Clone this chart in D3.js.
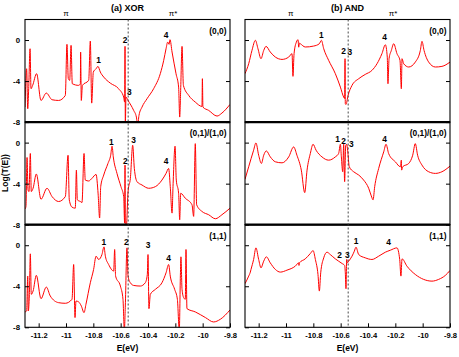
<!DOCTYPE html>
<html lang="en">
  <head>
    <meta charset="utf-8">
    <title>XOR / AND transmission</title>
    <script src="https://cdn.jsdelivr.net/npm/d3@7"></script>
    <style>
      body { margin: 0; background: #fff; }
      text { font-family: "Liberation Sans", Arial, Helvetica, sans-serif; }
    </style>
  </head>
  <body>
    <script>
      // energy ticks, log ticks, row tags
      const eTicks = [-11.2, -11, -10.8, -10.6, -10.4, -10.2, -10, -9.8];
      const logTicks = [0, -4, -8];
      const rowTags = ["(0,0)", "(0,1)/(1,0)", "(1,1)"];
      const fermiE = -10.545;

      // [E, log T]
      const xor00 = [[-11.300,-6.54],[-11.288,-2.80],[-11.280,-6.70],[-11.273,-4.75],[-11.263,-0.85],[-11.256,-4.75],[-11.244,-4.42],[-11.215,-3.28],[-11.183,-5.89],[-11.144,-5.17],[-11.102,-5.82],[-11.054,-5.89],[-11.005,-5.40],[-10.993,-0.42],[-10.983,-3.77],[-10.973,-3.93],[-10.963,-0.52],[-10.954,-4.26],[-10.907,-4.42],[-10.895,-4.26],[-10.893,-1.17],[-10.888,-5.89],[-10.880,-4.42],[-10.834,-3.93],[-10.822,-0.10],[-10.812,-6.15],[-10.800,-3.12],[-10.780,-2.80],[-10.766,-2.57],[-10.749,-3.12],[-10.724,-3.61],[-10.676,-4.20],[-10.615,-4.75],[-10.578,-5.56],[-10.571,-6.05],[-10.568,-0.62],[-10.566,-8.30],[-10.561,-5.56],[-10.546,-5.89],[-10.505,-6.86],[-10.485,-7.51],[-10.476,-8.30],[-10.466,-7.35],[-10.444,-6.54],[-10.407,-5.72],[-10.359,-4.75],[-10.310,-3.28],[-10.285,-1.98],[-10.268,-0.85],[-10.256,-0.20],[-10.246,-0.42],[-10.239,0.03],[-10.224,-1.17],[-10.195,-3.28],[-10.176,-4.59],[-10.168,-7.51],[-10.161,-4.91],[-10.151,-0.62],[-10.141,-4.42],[-10.102,-5.40],[-10.054,-6.05],[-10.005,-6.47],[-10.002,-3.77],[-9.998,-6.54],[-9.956,-6.86],[-9.895,-7.41],[-9.859,-7.12],[-9.800,-6.28]];
      const xor01 = [[-11.300,-6.48],[-11.293,-6.23],[-11.285,-1.45],[-11.278,-4.61],[-11.271,-4.77],[-11.261,-1.06],[-11.254,-4.77],[-11.241,-4.45],[-11.217,-3.06],[-11.183,-5.52],[-11.139,-4.45],[-11.102,-5.26],[-11.054,-5.74],[-11.005,-5.26],[-10.985,-1.23],[-10.976,-5.58],[-10.956,-6.29],[-10.932,-6.39],[-10.924,-2.68],[-10.917,-5.58],[-10.895,-5.74],[-10.883,-5.84],[-10.868,-1.06],[-10.859,-3.65],[-10.834,-3.74],[-10.810,-3.48],[-10.780,-3.10],[-10.765,-5.00],[-10.754,-7.35],[-10.746,-4.29],[-10.724,-3.16],[-10.693,-2.03],[-10.673,-1.23],[-10.663,-0.35],[-10.654,-1.39],[-10.627,-3.00],[-10.598,-4.29],[-10.578,-5.26],[-10.571,-7.84],[-10.568,-2.19],[-10.566,-8.30],[-10.559,-8.30],[-10.546,-4.77],[-10.529,-3.48],[-10.512,-0.26],[-10.500,-2.52],[-10.480,-3.81],[-10.444,-4.13],[-10.395,-4.45],[-10.346,-4.29],[-10.298,-3.65],[-10.268,-3.00],[-10.249,-2.52],[-10.237,-4.29],[-10.224,-6.87],[-10.217,-4.29],[-10.202,-0.35],[-10.193,-3.65],[-10.176,-4.94],[-10.168,-7.52],[-10.161,-4.94],[-10.127,-5.42],[-10.078,-6.06],[-10.066,-7.19],[-10.054,-0.10],[-10.044,-6.06],[-10.005,-6.71],[-9.956,-7.03],[-9.907,-7.42],[-9.859,-7.03],[-9.800,-6.39]];
      const xor11 = [[-11.300,-6.50],[-11.288,-6.41],[-11.280,-3.01],[-11.276,-6.41],[-11.268,-4.79],[-11.261,-0.84],[-11.254,-4.79],[-11.241,-4.47],[-11.217,-2.94],[-11.183,-5.21],[-11.144,-4.08],[-11.115,-4.95],[-11.054,-5.60],[-11.005,-5.66],[-10.956,-5.27],[-10.944,-1.88],[-10.934,-7.05],[-10.927,-5.44],[-10.907,-5.53],[-10.888,-5.92],[-10.868,-6.57],[-10.854,-5.76],[-10.822,-3.66],[-10.798,-2.36],[-10.780,-1.07],[-10.761,-1.39],[-10.737,-0.91],[-10.722,-0.16],[-10.712,-1.07],[-10.688,-1.88],[-10.651,-2.52],[-10.644,-0.42],[-10.637,-3.01],[-10.602,-3.98],[-10.583,-5.27],[-10.573,-8.30],[-10.566,-5.92],[-10.554,-0.26],[-10.546,-3.01],[-10.529,-3.66],[-10.505,-3.92],[-10.456,-3.98],[-10.420,-3.66],[-10.405,-2.85],[-10.400,-0.91],[-10.393,-6.18],[-10.383,-4.79],[-10.346,-4.30],[-10.298,-3.66],[-10.268,-2.69],[-10.249,-1.88],[-10.237,-3.01],[-10.205,-4.30],[-10.185,-5.27],[-10.171,-8.30],[-10.163,-2.94],[-10.159,-1.13],[-10.151,-4.30],[-10.139,-5.11],[-10.127,-5.27],[-10.122,-0.42],[-10.115,-6.18],[-10.054,-6.50],[-9.980,-7.05],[-9.920,-7.48],[-9.871,-7.22],[-9.800,-6.31]];
      const and00 = [[-11.300,-3.28],[-11.273,-2.31],[-11.249,-1.01],[-11.224,-0.03],[-11.205,-0.85],[-11.183,-1.82],[-11.163,-1.01],[-11.146,-0.62],[-11.115,-1.17],[-11.078,-1.66],[-11.029,-1.89],[-10.980,-1.66],[-10.956,-1.33],[-10.949,-3.54],[-10.941,-1.33],[-10.924,-0.20],[-10.912,0.03],[-10.907,-0.70],[-10.902,-0.30],[-10.895,-0.36],[-10.859,-0.68],[-10.798,-0.59],[-10.756,-0.36],[-10.741,-0.03],[-10.724,-0.85],[-10.688,-1.98],[-10.639,-3.28],[-10.602,-4.59],[-10.578,-5.56],[-10.571,-5.70],[-10.568,-1.82],[-10.566,-6.21],[-10.561,-6.28],[-10.546,-5.40],[-10.517,-4.42],[-10.468,-3.77],[-10.420,-3.35],[-10.371,-2.96],[-10.334,-2.31],[-10.298,-1.33],[-10.273,-0.46],[-10.259,-1.66],[-10.254,-4.26],[-10.246,-1.82],[-10.229,-1.01],[-10.212,-0.36],[-10.188,-1.33],[-10.166,-1.98],[-10.156,-4.75],[-10.151,-1.82],[-10.139,-2.31],[-10.102,-2.63],[-10.054,-2.15],[-10.017,-1.01],[-10.005,-0.13],[-9.990,-1.01],[-9.956,-2.15],[-9.907,-2.63],[-9.859,-2.57],[-9.800,-2.15]];
      const and01 = [[-11.300,-3.58],[-11.273,-2.35],[-11.237,-0.74],[-11.220,-0.03],[-11.200,-1.23],[-11.180,-2.03],[-11.163,-1.23],[-11.144,-0.81],[-11.115,-1.39],[-11.078,-1.87],[-11.029,-1.97],[-10.980,-1.39],[-10.944,-0.42],[-10.920,-1.23],[-10.888,-2.68],[-10.863,-4.87],[-10.846,-2.68],[-10.822,-1.06],[-10.802,-0.16],[-10.780,-0.74],[-10.737,-1.39],[-10.688,-1.71],[-10.639,-1.39],[-10.615,-1.06],[-10.602,-0.16],[-10.595,-1.39],[-10.585,-2.84],[-10.578,-0.16],[-10.571,-3.81],[-10.563,-0.26],[-10.556,-0.16],[-10.549,-0.74],[-10.537,-2.35],[-10.505,-2.84],[-10.468,-3.16],[-10.432,-3.65],[-10.395,-4.45],[-10.376,-5.19],[-10.363,-5.58],[-10.351,-4.29],[-10.322,-2.52],[-10.285,-0.90],[-10.268,-0.16],[-10.249,-1.06],[-10.200,-1.87],[-10.163,-2.35],[-10.156,-1.71],[-10.154,-2.68],[-10.146,-2.35],[-10.102,-2.03],[-10.073,-1.23],[-10.054,-0.10],[-10.037,-1.23],[-10.005,-2.19],[-9.956,-2.84],[-9.907,-3.00],[-9.859,-2.84],[-9.800,-2.29]];
      const and11 = [[-11.300,-3.75],[-11.273,-3.01],[-11.261,-2.62],[-11.256,-2.36],[-11.237,-1.39],[-11.220,-0.26],[-11.200,-1.39],[-11.183,-2.20],[-11.163,-1.55],[-11.144,-1.13],[-11.115,-1.72],[-11.078,-2.36],[-11.041,-2.62],[-10.993,-2.43],[-10.932,-2.04],[-10.907,-1.72],[-10.905,-1.97],[-10.902,-1.72],[-10.859,-1.33],[-10.822,-0.81],[-10.802,-0.52],[-10.785,-1.39],[-10.766,-2.85],[-10.756,-4.47],[-10.746,-2.69],[-10.724,-1.23],[-10.700,-0.68],[-10.676,-0.91],[-10.639,-1.33],[-10.590,-1.78],[-10.571,-1.97],[-10.566,-2.69],[-10.561,-4.24],[-10.556,-1.39],[-10.551,-1.72],[-10.541,-1.55],[-10.517,-1.07],[-10.500,-0.58],[-10.488,-0.19],[-10.468,-0.91],[-10.420,-1.23],[-10.371,-1.39],[-10.322,-1.07],[-10.273,-0.68],[-10.237,-0.49],[-10.188,-0.26],[-10.168,-1.39],[-10.159,-3.01],[-10.151,-1.33],[-10.115,-2.04],[-10.054,-2.85],[-9.993,-3.33],[-9.932,-3.50],[-9.883,-3.33],[-9.834,-2.94],[-9.800,-2.46]];

      // peak number labels: [text, E, logT]
      const xor00Peaks = [["1",-10.761,-1.98],["2",-10.568,-0.03],["3",-10.537,-5.07],["4",-10.268,0.52]];
      const xor01Peaks = [["1",-10.668,0.03],["2",-10.566,-1.77],["3",-10.505,0.23],["4",-10.268,-1.77]];
      const xor11Peaks = [["1",-10.724,0.32],["2",-10.559,0.32],["3",-10.400,0.00],["4",-10.249,-1.23]];
      const and00Peaks = [["1",-10.741,0.46],["2",-10.578,-1.07],["3",-10.532,-1.14],["4",-10.278,0.29]];
      const and01Peaks = [["1",-10.622,0.39],["2",-10.578,0.16],["3",-10.522,-0.10],["4",-10.278,0.39]];
      const and11Peaks = [["1",-10.488,0.39],["2",-10.607,-1.00],["3",-10.551,-1.00],["4",-10.249,0.32]];

      const W = 459, H = 357;
      const PANEL_W = 205;
      const ROW_TOP = 19.5, ROW_H = 102.6;
      const FONT = "'Liberation Sans', Arial, Helvetica, sans-serif";

      const panels = [
        {x0: 25, title: "(a) XOR", rows: [xor00, xor01, xor11], peaks: [xor00Peaks, xor01Peaks, xor11Peaks], piE: -11.0},
        {x0: 245, title: "(b) AND", rows: [and00, and01, and11], peaks: [and00Peaks, and01Peaks, and11Peaks], piE: -10.965}
      ];

      var svg = d3.select("body").append("svg")
        .attr("width", W)
        .attr("height", H);

      panels.forEach(function(p, pi) {
        var x = d3.scaleLinear().domain([-11.3, -9.8]).range([p.x0, p.x0 + PANEL_W]);

        p.rows.forEach(function(series, r) {
          var top = ROW_TOP + r * ROW_H;
          var y = d3.scaleLinear().domain([-8, 2]).range([top + ROW_H, top]);
          var clipId = "clip" + pi + r;

          svg.append("clipPath").attr("id", clipId)
            .append("rect")
            .attr("x", p.x0).attr("y", top)
            .attr("width", PANEL_W).attr("height", ROW_H);

          var line = d3.line().curve(d3.curveMonotoneX).x(d => x(d[0])).y(d => y(d[1]));
          svg.append("path")
            .datum(series)
            .attr("clip-path", "url(#" + clipId + ")")
            .attr("fill", "none")
            .attr("stroke", "#f00")
            .attr("stroke-width", 1)
            .attr("stroke-linejoin", "round")
            .attr("d", line);

          // ticks pointing inward
          var left = svg.append("g")
            .attr("transform", "translate(" + p.x0 + ",0)")
            .call(d3.axisLeft(y).tickValues(logTicks).tickSize(-4).tickPadding(5)
              .tickFormat(pi === 0 ? String : ""));
          var right = svg.append("g")
            .attr("transform", "translate(" + (p.x0 + PANEL_W) + ",0)")
            .call(d3.axisRight(y).tickValues(logTicks).tickSize(-4).tickFormat(""));
          [left, right].forEach(function(g) {
            g.select(".domain").remove();
            g.attr("font-family", FONT).attr("font-size", 7.8).attr("font-weight", "bold");
          });

          if (r === p.rows.length - 1) {
            var bottom = svg.append("g")
              .attr("transform", "translate(0," + (top + ROW_H) + ")")
              .call(d3.axisBottom(x).tickValues(eTicks).tickSize(-4).tickPadding(5)
                .tickFormat(String));
            bottom.select(".domain").remove();
            bottom.attr("font-family", FONT).attr("font-size", 7.6).attr("font-weight", "bold");
          }

          svg.append("rect")
            .attr("x", p.x0).attr("y", top)
            .attr("width", PANEL_W).attr("height", ROW_H)
            .attr("fill", "none")
            .attr("stroke", "#000")
            .attr("stroke-width", 1.1);

          if (r > 0) {
            svg.append("line")
              .attr("x1", p.x0).attr("x2", p.x0 + PANEL_W)
              .attr("y1", top).attr("y2", top)
              .attr("stroke", "#000").attr("stroke-width", 2.2);
          }

          svg.append("text")
            .attr("x", p.x0 + PANEL_W - 3.5)
            .attr("y", top + 11)
            .attr("text-anchor", "end")
            .attr("dominant-baseline", "central")
            .attr("font-size", 8.4)
            .attr("font-weight", "bold")
            .text(rowTags[r]);

          svg.selectAll(null)
            .data(p.peaks[r])
            .enter().append("text")
            .attr("x", d => x(d[1]))
            .attr("y", d => y(d[2]))
            .attr("text-anchor", "middle")
            .attr("dominant-baseline", "central")
            .attr("font-size", 8.4)
            .attr("font-weight", "bold")
            .text(d => d[0]);
        });

        // fermi level, dashed through all rows
        svg.append("line")
          .attr("x1", x(fermiE)).attr("x2", x(fermiE))
          .attr("y1", ROW_TOP).attr("y2", ROW_TOP + 3 * ROW_H)
          .attr("stroke", "#333")
          .attr("stroke-width", 0.9)
          .attr("stroke-dasharray", "2,2");

        svg.append("text")
          .attr("x", p.x0 + PANEL_W / 2)
          .attr("y", 10.5)
          .attr("text-anchor", "middle")
          .attr("font-size", 9)
          .attr("font-weight", "bold")
          .text(p.title);

        svg.append("text")
          .attr("x", x(p.piE)).attr("y", 16)
          .attr("text-anchor", "middle")
          .attr("font-size", 8)
          .attr("fill", "#000")
          .text("π");
        svg.append("text")
          .attr("x", x(-10.217)).attr("y", 16)
          .attr("text-anchor", "middle")
          .attr("font-size", 8)
          .attr("fill", "#000")
          .text("π*");

        svg.append("text")
          .attr("x", p.x0 + PANEL_W / 2)
          .attr("y", 351)
          .attr("text-anchor", "middle")
          .attr("font-size", 8.5)
          .attr("font-weight", "bold")
          .text("E(eV)");
      });

      svg.append("text")
        .attr("transform", "translate(7.5,173) rotate(-90)")
        .attr("text-anchor", "middle")
        .attr("font-size", 8.5)
        .attr("font-weight", "bold")
        .text("Log(T(E))");
    </script>
  </body>
</html>
